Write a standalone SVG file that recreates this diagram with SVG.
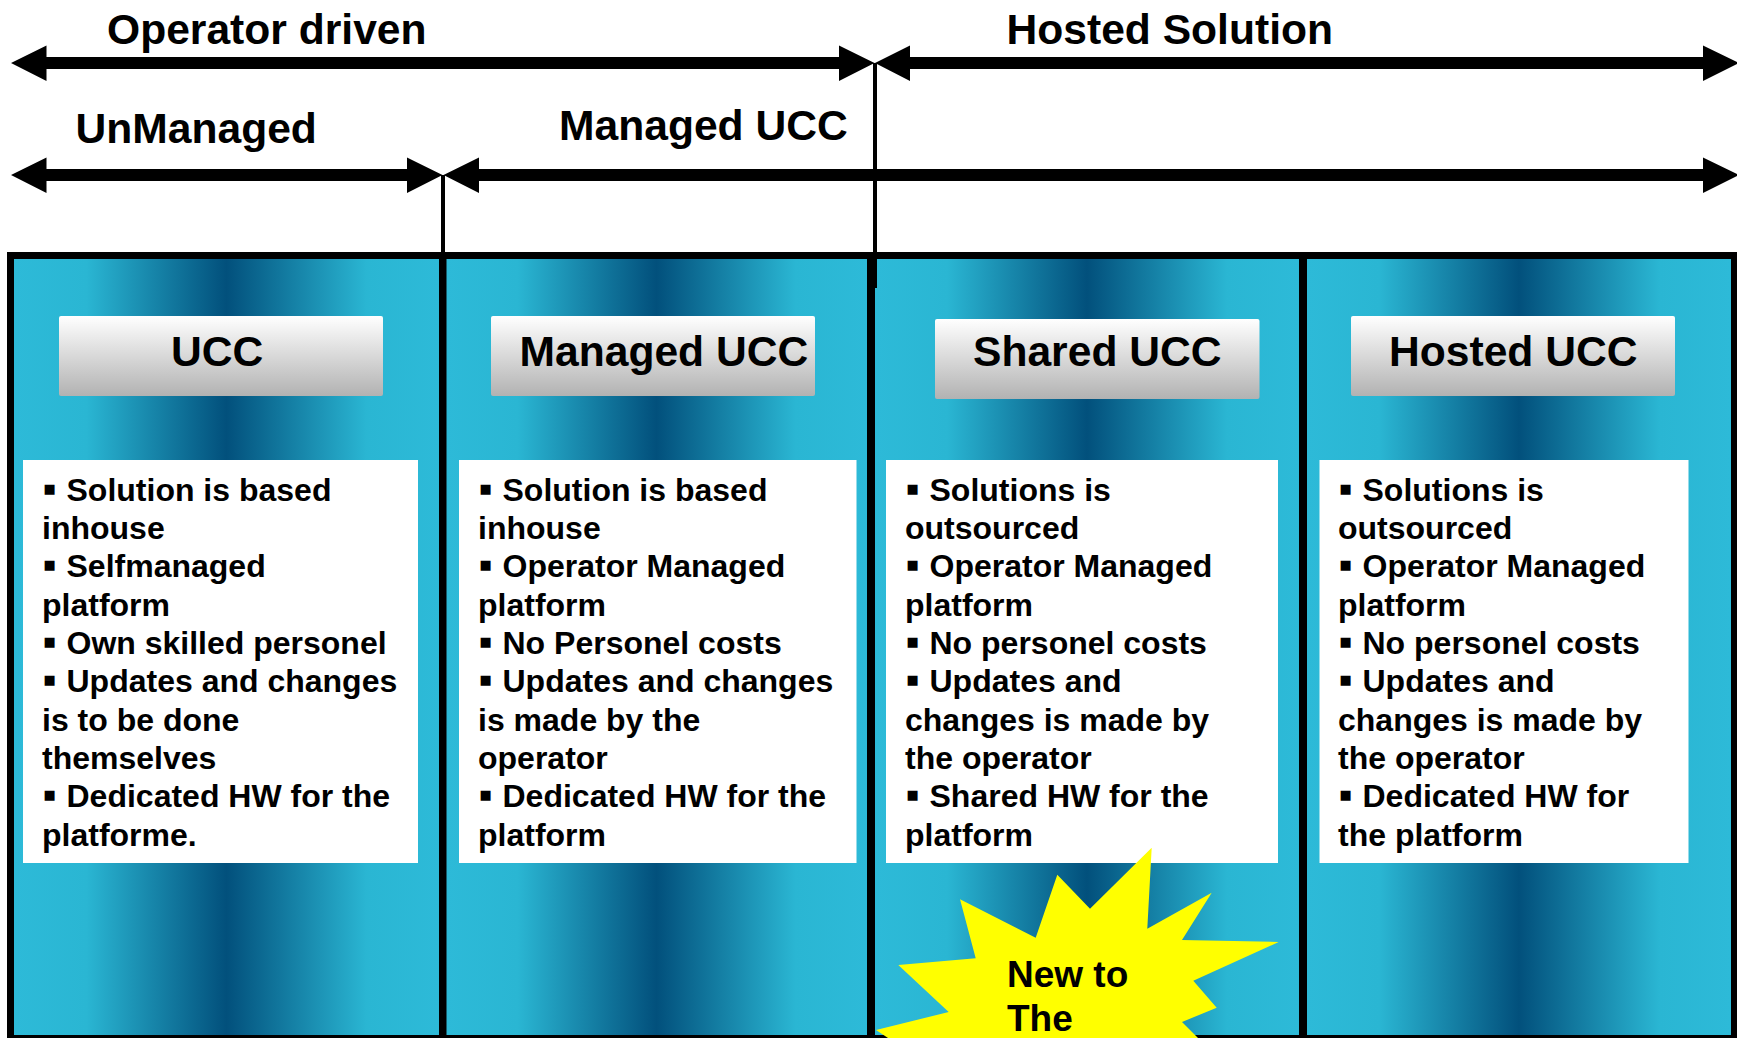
<svg xmlns="http://www.w3.org/2000/svg" width="1737" height="1038" viewBox="0 0 1737 1038">
<style>
text{font-family:"Liberation Sans",Arial,sans-serif;font-weight:700;fill:#000}
.t{font-size:42.6px}
.b{font-size:32px}
.m{font-size:40px}
.s{font-size:37px}
.bg{fill:url(#col)}
.hd{fill:url(#hdr)}
.bx{fill:#fff}
</style>
<defs>
<linearGradient id="col" x1="0" y1="0" x2="1" y2="0">
<stop offset="0" stop-color="#2DBAD8"/><stop offset=".17" stop-color="#2AB6D3"/><stop offset=".5" stop-color="#02507C"/><stop offset=".83" stop-color="#2AB6D3"/><stop offset="1" stop-color="#2DBAD8"/>
</linearGradient>
<linearGradient id="hdr" x1="0" y1="0" x2="0" y2="1">
<stop offset="0" stop-color="#fff"/><stop offset="1" stop-color="#B2B2B2"/>
</linearGradient>
</defs>
<g id="col-bg">
<rect class="bg" x="14" y="259" width="425" height="776"/>
<rect class="bg" x="446" y="259" width="421" height="776"/>
<rect class="bg" x="875" y="259" width="424" height="776"/>
<rect class="bg" x="1307" y="259" width="424" height="776"/>
</g>
<g id="frame" fill="#000">
<rect x="7" y="252" width="1730" height="7"/>
<rect x="7" y="252" width="7" height="786"/>
<rect x="439" y="252" width="7.5" height="786"/>
<rect x="867" y="252" width="8" height="786"/>
<rect x="1299" y="252" width="8" height="786"/>
<rect x="1731" y="252" width="6" height="786"/>
<rect x="7" y="1035" width="1730" height="3"/>
</g>
<g id="connectors" fill="#000">
<rect x="441" y="175" width="4" height="80"/>
<rect x="873" y="63" width="4" height="225"/>
<path d="M11 63L46.500 45.500V57H839V45.500L874.500 63L839 81V69H46.500V81Z"/>
<path d="M875 63L910 45.500V57H1703V45.500L1739 63L1703 81V69H910V81Z"/>
<path d="M11 175L46.500 157.500V169H407V157.500L442.500 175L407 193V181H46.500V193Z"/>
<path d="M443.500 175L479 157.500V169H1703V157.500L1739 175L1703 193V181H479V193Z"/>
</g>
<g id="top-labels">
<text class="t" x="107" y="44">Operator driven</text>
<text class="t" x="1006.500" y="44">Hosted Solution</text>
<text class="t" x="75.500" y="143">UnManaged</text>
<text class="t" x="559" y="140">Managed UCC</text>
</g>
<g id="node-ucc">
<rect class="hd" x="59" y="316" width="324" height="80" rx="2"/>
<text class="t" x="171" y="366">UCC</text>
<rect class="bx" x="23" y="460" width="395" height="403"/>
<text class="b"><tspan class="m" x="42.500" y="502">▪</tspan><tspan x="66.500" y="501">Solution is based</tspan><tspan x="42" y="539">inhouse</tspan><tspan class="m" x="42.500" y="578">▪</tspan><tspan x="66.500" y="577">Selfmanaged</tspan><tspan x="42" y="616">platform</tspan><tspan class="m" x="42.500" y="655">▪</tspan><tspan x="66.500" y="654">Own skilled personel</tspan><tspan class="m" x="42.500" y="693">▪</tspan><tspan x="66.500" y="692">Updates and changes</tspan><tspan x="42" y="731">is to be done</tspan><tspan x="42" y="769">themselves</tspan><tspan class="m" x="42.500" y="808">▪</tspan><tspan x="66.500" y="807">Dedicated HW for the</tspan><tspan x="42" y="846">platforme.</tspan></text>
</g>
<g id="node-managed">
<rect class="hd" x="491" y="316" width="324" height="80" rx="2"/>
<text class="t" x="519.500" y="366">Managed UCC</text>
<rect class="bx" x="459" y="460" width="397.500" height="403"/>
<text class="b"><tspan class="m" x="478.500" y="502">▪</tspan><tspan x="502.500" y="501">Solution is based</tspan><tspan x="478" y="539">inhouse</tspan><tspan class="m" x="478.500" y="578">▪</tspan><tspan x="502.500" y="577">Operator Managed</tspan><tspan x="478" y="616">platform</tspan><tspan class="m" x="478.500" y="655">▪</tspan><tspan x="502.500" y="654">No Personel costs</tspan><tspan class="m" x="478.500" y="693">▪</tspan><tspan x="502.500" y="692">Updates and changes</tspan><tspan x="478" y="731">is made by the</tspan><tspan x="478" y="769">operator</tspan><tspan class="m" x="478.500" y="808">▪</tspan><tspan x="502.500" y="807">Dedicated HW for the</tspan><tspan x="478" y="846">platform</tspan></text>
</g>
<g id="node-shared">
<rect class="hd" x="935" y="319" width="324.500" height="80" rx="2"/>
<text class="t" x="973" y="366">Shared UCC</text>
<rect class="bx" x="886" y="460" width="392" height="403"/>
<text class="b"><tspan class="m" x="905.500" y="502">▪</tspan><tspan x="929.500" y="501">Solutions is</tspan><tspan x="905" y="539">outsourced</tspan><tspan class="m" x="905.500" y="578">▪</tspan><tspan x="929.500" y="577">Operator Managed</tspan><tspan x="905" y="616">platform</tspan><tspan class="m" x="905.500" y="655">▪</tspan><tspan x="929.500" y="654">No personel costs</tspan><tspan class="m" x="905.500" y="693">▪</tspan><tspan x="929.500" y="692">Updates and</tspan><tspan x="905" y="731">changes is made by</tspan><tspan x="905" y="769">the operator</tspan><tspan class="m" x="905.500" y="808">▪</tspan><tspan x="929.500" y="807">Shared HW for the</tspan><tspan x="905" y="846">platform</tspan></text>
</g>
<g id="node-hosted">
<rect class="hd" x="1351" y="316" width="324" height="80" rx="2"/>
<text class="t" x="1389" y="366">Hosted UCC</text>
<rect class="bx" x="1319.500" y="460" width="369" height="403"/>
<text class="b"><tspan class="m" x="1338.500" y="502">▪</tspan><tspan x="1362.500" y="501">Solutions is</tspan><tspan x="1338" y="539">outsourced</tspan><tspan class="m" x="1338.500" y="578">▪</tspan><tspan x="1362.500" y="577">Operator Managed</tspan><tspan x="1338" y="616">platform</tspan><tspan class="m" x="1338.500" y="655">▪</tspan><tspan x="1362.500" y="654">No personel costs</tspan><tspan class="m" x="1338.500" y="693">▪</tspan><tspan x="1362.500" y="692">Updates and</tspan><tspan x="1338" y="731">changes is made by</tspan><tspan x="1338" y="769">the operator</tspan><tspan class="m" x="1338.500" y="808">▪</tspan><tspan x="1362.500" y="807">Dedicated HW for</tspan><tspan x="1338" y="846">the platform</tspan></text>
</g>
<g id="node-star">
<polygon fill="#FF0" points="1151.700,847.700 1147.300,928.700 1211.700,892.700 1182,940 1278.700,942 1193.300,980.700 1216.700,1007.700 1182,1022 1198,1038 888,1038 876,1030 948.700,1012 898.300,965 975.700,958.300 960,899.300 1035.700,937.700 1057.300,874.700 1090,908.700"/>
<text class="s" x="1007" y="987">New to</text>
<text class="s" x="1007" y="1031">The</text>
</g>
</svg>
